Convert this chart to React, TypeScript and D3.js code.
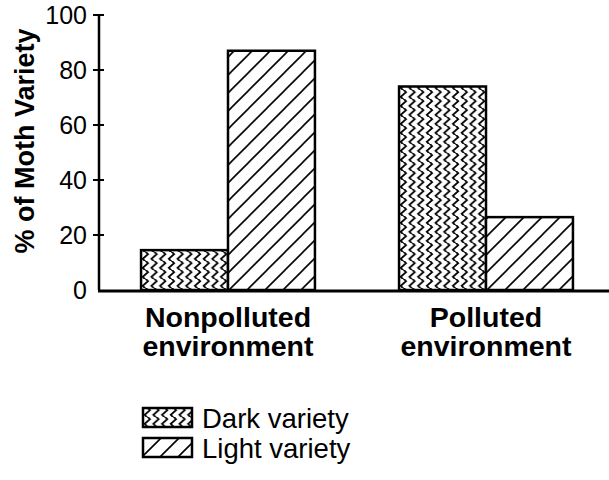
import React from 'react'
import * as d3 from 'd3'

const categories = ['Nonpolluted environment', 'Polluted environment']
const categoryLines = [['Nonpolluted', 'environment'], ['Polluted', 'environment']]
const series = ['Dark variety', 'Light variety']
const darkValues = [14.5, 74]
const lightValues = [87, 26.5]
const yTicks = [0, 20, 40, 60, 80, 100]

const width = 609
const height = 480
const font = '"Liberation Sans", Arial, Helvetica, sans-serif'

export default function App() {
  const y = d3.scaleLinear().domain([0, 100]).range([290, 15])
  const x = d3.scaleBand<string>()
    .domain(categories)
    .range([99, 615])
    .paddingInner(0.326)
    .paddingOuter(0.163)
  const xInner = d3.scaleBand<string>()
    .domain(series)
    .range([0, x.bandwidth()])

  const valuesBySeries = [darkValues, lightValues]
  const fills = ['url(#zigzag)', 'url(#diag)']

  return (
    <svg width={width} height={height} style={{ position: 'absolute', left: 0, top: 0 }}>
      <defs>
        <pattern id="zigzag" patternUnits="userSpaceOnUse" width={8.7} height={9}>
          <rect width={8.7} height={9} fill="#fff" />
          <path d="M4.3,-0.5 L6.9,2.25 L1.7,6.75 L4.3,9.5" fill="none" stroke="#000" strokeWidth={1.8} />
        </pattern>
        <pattern id="diag" patternUnits="userSpaceOnUse" width={18} height={18}>
          <rect width={18} height={18} fill="#fff" />
          <path d="M0,18 L18,0 M-3,3 L3,-3 M15,21 L21,15" stroke="#000" strokeWidth={1.6} />
        </pattern>
      </defs>

      {/* bars */}
      {categories.map((c, ci) => (
        <g key={c} transform={`translate(${x(c)},0)`}>
          {series.map((s, si) => {
            const v = valuesBySeries[si][ci]
            return (
              <rect
                key={s}
                x={xInner(s)}
                y={y(v)}
                width={xInner.bandwidth()}
                height={y(0) - y(v)}
                fill={fills[si]}
                stroke="#000"
                strokeWidth={2.5}
              />
            )
          })}
        </g>
      ))}

      {/* y axis */}
      <line x1={99} x2={99} y1={y(100)} y2={y(0)} stroke="#000" strokeWidth={2.5} />
      {yTicks.map(t => (
        <g key={t}>
          {t > 0 && <line x1={93} x2={104} y1={y(t)} y2={y(t)} stroke="#000" strokeWidth={2} />}
          <text
            x={87}
            y={y(t)}
            dy="0.36em"
            textAnchor="end"
            fontFamily={font}
            fontSize={25}
          >{t}</text>
        </g>
      ))}
      <text
        transform={`translate(34,141) rotate(-90)`}
        textAnchor="middle"
        fontFamily={font}
        fontSize={27}
        fontWeight="bold"
      >% of Moth Variety</text>

      {/* x axis */}
      <line x1={98} x2={609} y1={291} y2={291} stroke="#000" strokeWidth={3} />
      {categories.map((c, ci) => {
        const cx = (x(c) ?? 0) + x.bandwidth() / 2
        return (
          <text
            key={c}
            x={cx}
            y={327}
            textAnchor="middle"
            fontFamily={font}
            fontSize={28.5}
            fontWeight="bold"
          >
            {categoryLines[ci].map((line, li) => (
              <tspan key={li} x={cx} dy={li === 0 ? 0 : 29}>{line}</tspan>
            ))}
          </text>
        )
      })}

      {/* legend */}
      {series.map((s, si) => (
        <g key={s} transform={`translate(143,${408 + si * 30})`}>
          <rect width={49} height={19} fill={fills[si]} stroke="#000" strokeWidth={2.5} />
          <text x={59} y={20} fontFamily={font} fontSize={27.5}>{s}</text>
        </g>
      ))}
    </svg>
  )
}
